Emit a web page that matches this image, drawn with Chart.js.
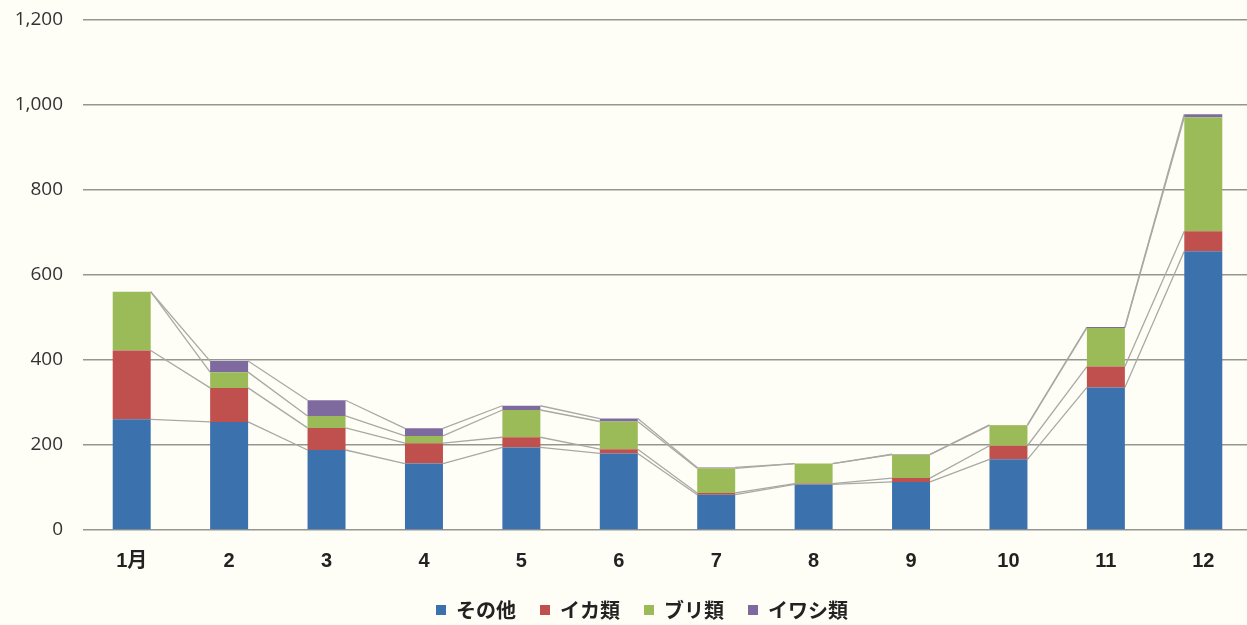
<!DOCTYPE html>
<html>
<head>
<meta charset="utf-8">
<script src="https://cdn.jsdelivr.net/npm/chart.js@4.4.1/dist/chart.umd.min.js"></script>
<style>
  html, body { margin: 0; padding: 0; background: #fffef6; overflow: hidden; }
  #wrap { position: relative; top: -12px; width: 1252px; height: 637px; }
</style>
</head>
<body>
<div id="wrap"><canvas id="fishChart" width="1252" height="637"></canvas></div>
<script>
const months = ['1月', '2', '3', '4', '5', '6', '7', '8', '9', '10', '11', '12'];
const sonota = [260, 254, 188, 156, 194, 180, 83, 107, 113, 166, 335, 655];
const ika    = [162, 80, 52, 48, 24, 10, 4, 2, 9, 32, 49, 47];
const buri   = [138, 37, 28, 17, 64, 65, 58, 47, 55, 48, 91, 268];
const iwashi = [0, 26, 37, 18, 10, 7, 2, 0, 1, 1, 2, 7];
const yTicks = [0, 200, 400, 600, 800, 1000, 1200];

// Excel-style series lines joining the top of each segment between neighbouring bars
const seriesLines = {
  id: 'seriesLines',
  beforeDatasetsDraw(chart) {
    const ctx = chart.ctx;
    ctx.save();
    ctx.strokeStyle = '#a8a8a4';
    ctx.lineWidth = 1.3;
    chart.data.datasets.forEach((ds, di) => {
      const bars = chart.getDatasetMeta(di).data;
      for (let i = 0; i < bars.length - 1; i++) {
        const a = bars[i], b = bars[i + 1];
        ctx.beginPath();
        ctx.moveTo(a.x + a.width / 2, a.y);
        ctx.lineTo(b.x - b.width / 2, b.y);
        ctx.stroke();
      }
    });
    ctx.restore();
  }
};

// nudge the legend so it sits where the original one does
const legendShift = {
  id: 'legendShift',
  afterLayout(chart) {
    chart.legend.left += 32;
    chart.legend.top -= 16;
  }
};

const ctx = document.getElementById('fishChart').getContext('2d');
new Chart(ctx, {
  type: 'bar',
  data: {
    labels: months,
    datasets: [
      { label: 'その他', data: sonota, backgroundColor: '#3b72ad' },
      { label: 'イカ類', data: ika, backgroundColor: '#c0504d' },
      { label: 'ブリ類', data: buri, backgroundColor: '#9bbb59' },
      { label: 'イワシ類', data: iwashi, backgroundColor: '#7f6aa0' },
    ]
  },
  options: {
    responsive: false,
    animation: false,
    barPercentage: 0.39,
    categoryPercentage: 1.0,
    layout: { padding: 0 },
    plugins: {
      tooltip: { enabled: false },
      legend: {
        position: 'bottom',
        maxHeight: 33,
        labels: {
          boxWidth: 10,
          boxHeight: 10,
          padding: 24,
          color: '#222',
          font: { family: "'Noto Sans CJK JP', sans-serif", size: 20, weight: 'bold' }
        }
      }
    },
    scales: {
      x: {
        stacked: true,
        grid: { display: false, drawTicks: false },
        border: { display: false },
        ticks: {
          padding: 19,
          color: '#222',
          font: { family: "'Liberation Sans', 'Noto Sans CJK JP', sans-serif", size: 20, weight: 'bold' }
        }
      },
      y: {
        stacked: true,
        min: 0,
        max: 1200,
        afterBuildTicks(scale) { scale.ticks = yTicks.map(v => ({ value: v })); },
        afterFit(scale) { scale.width = 83; },
        grid: { color: '#959591', lineWidth: 1.6, drawTicks: false },
        border: { display: false },
        ticks: {
          padding: 20,
          color: '#333',
          font: { family: "'Open Sans', sans-serif", size: 19 },
          callback: v => v.toLocaleString('en-US')
        }
      }
    }
  },
  plugins: [seriesLines, legendShift]
});
</script>
</body>
</html>
